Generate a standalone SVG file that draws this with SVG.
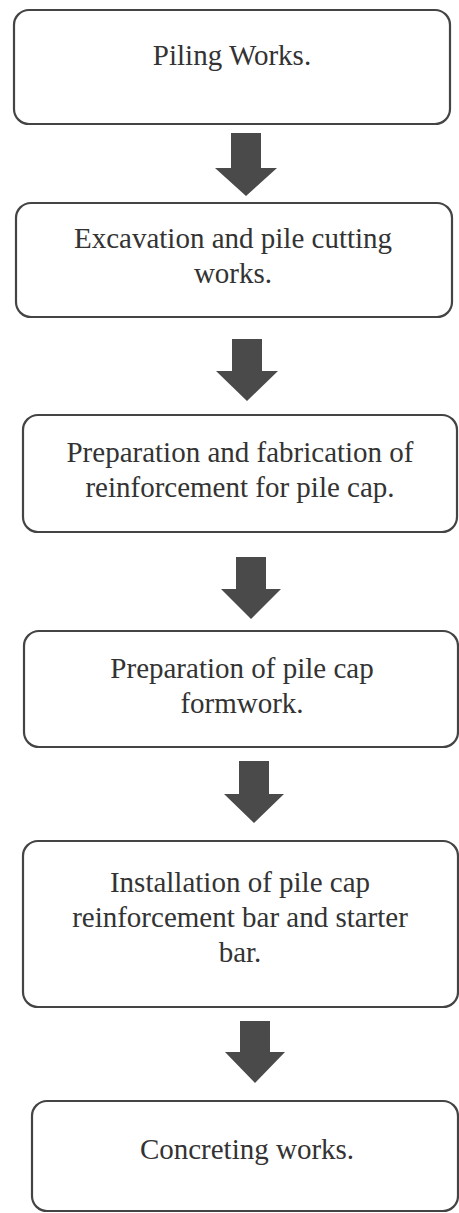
<svg xmlns="http://www.w3.org/2000/svg" width="459" height="1213" viewBox="0 0 459 1213">
<style>
.box{fill:#fff;stroke:#444;stroke-width:2.2}
.lbl{font-size:29px;fill:#333;text-anchor:middle}
.arr{fill:#4a4a4a}
</style>
<rect width="459" height="1213" fill="#fff"/>
<g id="connectors">
<path class="arr" d="M231,133 H261 V168 H277 L246,196 L215,168 H231 Z"/>
<path class="arr" d="M232,339 H262 V371 H278 L247,401 L216,371 H232 Z"/>
<path class="arr" d="M236,557 H266 V589 H281 L251,619 L221,589 H236 Z"/>
<path class="arr" d="M239,761 H269 V794 H284 L254,823 L224,794 H239 Z"/>
<path class="arr" d="M240,1021 H270 V1052 H285 L255,1083 L225,1052 H240 Z"/>
</g>
<g font-family="Liberation Serif, DejaVu Serif, serif">
<g id="n1">
<rect class="box" x="14" y="10" width="436" height="114" rx="15"/>
<text class="lbl" x="232" y="65">Piling Works.</text>
</g>
<g id="n2">
<rect class="box" x="16" y="203" width="436" height="114" rx="15"/>
<text class="lbl" x="233" y="248">Excavation and pile cutting</text>
<text class="lbl" x="233" y="283">works.</text>
</g>
<g id="n3">
<rect class="box" x="23" y="415" width="434" height="117" rx="15"/>
<text class="lbl" x="240" y="462">Preparation and fabrication of</text>
<text class="lbl" x="240" y="497">reinforcement for pile cap.</text>
</g>
<g id="n4">
<rect class="box" x="24" y="631" width="434" height="116" rx="15"/>
<text class="lbl" x="242" y="678">Preparation of pile cap</text>
<text class="lbl" x="242" y="713">formwork.</text>
</g>
<g id="n5">
<rect class="box" x="23" y="841" width="435" height="166" rx="15"/>
<text class="lbl" x="240" y="892">Installation of pile cap</text>
<text class="lbl" x="240" y="927">reinforcement bar and starter</text>
<text class="lbl" x="240" y="962">bar.</text>
</g>
<g id="n6">
<rect class="box" x="32" y="1101" width="426" height="110" rx="15"/>
<text class="lbl" x="247" y="1159">Concreting works.</text>
</g>
</g>
</svg>
